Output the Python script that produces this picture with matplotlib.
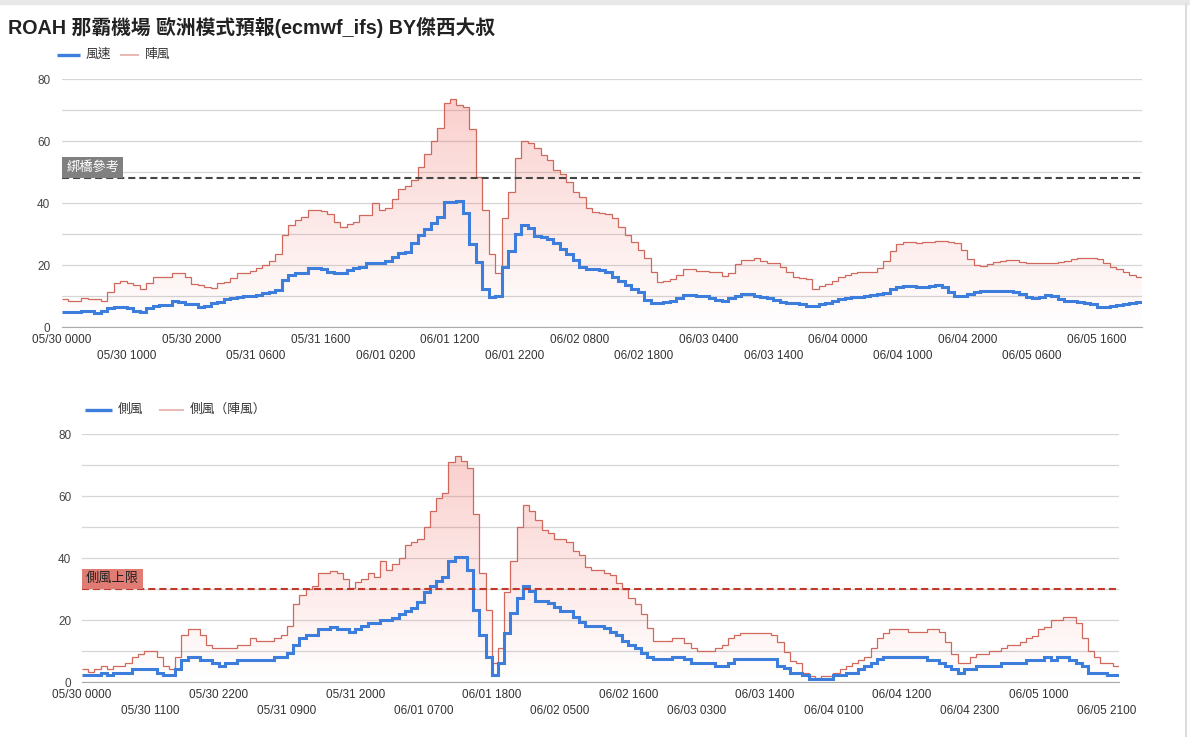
import numpy as np
import pandas as pd
import matplotlib
matplotlib.use("Agg")
import matplotlib.pyplot as plt
from matplotlib.colors import LinearSegmentedColormap
from matplotlib.lines import Line2D

plt.rcParams['font.family'] = ['Liberation Sans', 'Noto Sans CJK TC', 'DejaVu Sans']

TITLE = "ROAH 那霸機場 歐洲模式預報(ecmwf_ifs) BY傑西大叔"

# hourly forecast, 05/30 0000 onwards
times = pd.date_range("2024-05-30 00:00", periods=167, freq="h")
time_labels = times.strftime("%m/%d %H%M").tolist()

# top panel: wind / gust (kt)
wind = [4.8, 4.8, 4.8, 5.4, 5.4, 4.7, 5.4, 6.1, 6.7, 6.7, 6.1, 5.4, 4.8, 6.1, 7.0, 7.2, 7.2, 8.6, 8.1, 7.5,
        7.4, 6.7, 7.0, 7.7, 8.3, 9.0, 9.6, 9.9, 10.0, 10.2, 10.5, 11.0, 11.3, 12.0, 15.2, 16.9, 17.6, 17.6, 19.0, 19.0,
        18.7, 17.7, 17.4, 17.4, 18.5, 19.0, 19.6, 20.6, 20.8, 20.6, 21.5, 22.8, 23.9, 24.3, 27.1, 29.8, 31.6, 33.5, 35.7, 40.3,
        40.3, 40.8, 36.8, 26.8, 21.1, 12.3, 9.9, 10.1, 19.6, 24.6, 30.1, 33.0, 31.9, 29.6, 29.2, 28.6, 27.1, 25.2, 23.5, 21.7,
        19.6, 18.8, 18.7, 18.5, 17.9, 16.3, 14.9, 13.6, 12.5, 11.5, 8.8, 8.0, 7.7, 8.3, 8.5, 9.3, 10.4, 10.3, 10.1, 10.1,
        9.5, 8.8, 8.6, 9.3, 10.1, 10.7, 10.7, 10.1, 9.7, 9.3, 8.8, 8.3, 7.7, 7.7, 7.5, 7.0, 7.0, 7.4, 8.0, 8.6,
        9.1, 9.4, 9.7, 9.9, 10.1, 10.3, 10.6, 11.2, 12.3, 13.1, 13.3, 13.3, 13.1, 13.1, 13.4, 13.6, 13.1, 11.5, 10.1, 10.1,
        10.7, 11.4, 11.6, 11.7, 11.7, 11.7, 11.7, 11.5, 10.7, 9.9, 9.5, 9.9, 10.4, 10.2, 9.1, 8.6, 8.6, 8.3, 8.0, 7.4,
        6.7, 6.7, 6.9, 7.2, 7.4, 7.9, 8.3]
gust = [9.0, 8.5, 8.5, 9.4, 9.1, 9.1, 8.6, 11.4, 14.2, 14.8, 14.4, 13.6, 12.5, 14.2, 16.1, 16.1, 16.1, 17.5, 17.5, 16.3,
        13.9, 13.5, 13.1, 12.8, 14.3, 14.7, 15.8, 17.5, 17.5, 18.2, 19.0, 20.1, 21.3, 23.7, 29.8, 33.0, 34.6, 35.5, 37.8, 37.8,
        37.5, 36.5, 34.1, 32.5, 33.2, 34.1, 36.1, 36.1, 40.2, 37.8, 38.6, 41.4, 44.7, 45.6, 47.5, 51.8, 55.8, 60.1, 64.2, 72.3,
        73.5, 71.7, 71.2, 64.0, 48.6, 37.8, 23.6, 17.6, 35.2, 43.5, 54.5, 60.1, 59.3, 57.7, 55.5, 53.9, 50.8, 49.5, 47.0, 43.8,
        42.1, 38.4, 37.3, 37.0, 36.4, 35.4, 32.5, 29.8, 27.6, 24.9, 22.2, 17.9, 14.7, 15.0, 15.5, 16.9, 18.7, 18.8, 18.2, 18.2,
        17.9, 17.9, 16.5, 17.6, 20.4, 21.7, 21.7, 22.2, 21.5, 20.8, 20.6, 19.3, 17.9, 16.3, 16.0, 15.7, 12.3, 13.3, 14.0, 15.0,
        16.1, 16.9, 17.4, 17.7, 17.8, 17.8, 19.2, 21.5, 24.6, 26.8, 27.4, 27.4, 27.2, 27.6, 27.6, 27.9, 27.9, 27.6, 27.1, 24.9,
        21.9, 20.1, 19.9, 20.4, 21.2, 21.5, 21.7, 21.6, 21.2, 20.8, 20.6, 20.6, 20.6, 20.8, 21.2, 21.5, 21.9, 22.4, 22.5, 22.5,
        21.9, 20.6, 19.6, 18.7, 17.9, 16.9, 16.3]

# bottom panel: crosswind / crosswind gust (kt)
cross = [2.2, 2.2, 2.2, 3.1, 2.2, 3.1, 3.1, 3.1, 4.2, 4.2, 4.2, 4.2, 3.1, 2.2, 2.2, 4.2, 7.2, 8.3, 8.3, 7.2,
         7.2, 6.1, 5.1, 6.1, 6.1, 7.2, 7.2, 7.2, 7.2, 7.2, 7.2, 8.3, 8.3, 9.4, 12.0, 14.2, 15.3, 15.3, 17.2, 17.2,
         18.0, 17.2, 17.2, 16.1, 17.2, 18.2, 19.2, 19.2, 20.1, 20.1, 20.6, 22.0, 23.1, 23.9, 26.0, 29.2, 31.2, 32.8, 34.1, 39.2,
         40.3, 40.3, 36.2, 23.3, 15.3, 8.3, 2.2, 6.1, 15.8, 22.3, 27.1, 31.1, 29.5, 26.3, 26.3, 25.5, 24.4, 23.1, 23.1, 21.0,
         19.4, 18.3, 18.3, 18.3, 17.4, 16.3, 15.1, 13.4, 12.0, 11.0, 9.4, 8.3, 7.4, 7.4, 7.4, 8.3, 8.3, 7.4, 6.3, 6.3,
         6.3, 6.3, 5.4, 5.4, 6.3, 7.4, 7.4, 7.4, 7.4, 7.4, 7.4, 7.4, 5.3, 4.5, 3.1, 3.1, 2.2, 1.2, 1.2, 1.2,
         1.2, 2.2, 2.2, 3.1, 3.1, 4.2, 5.3, 6.3, 7.4, 8.3, 8.3, 8.3, 8.3, 8.3, 8.3, 8.3, 7.2, 7.2, 6.1, 5.1,
         4.2, 3.1, 4.2, 4.2, 5.3, 5.3, 5.3, 5.3, 6.1, 6.1, 6.1, 6.1, 7.2, 7.2, 7.2, 8.3, 7.2, 8.3, 8.3, 7.2,
         6.3, 5.3, 3.1, 3.1, 3.1, 2.2, 2.2]
cross_gust = [4.2, 3.2, 4.2, 5.1, 4.2, 5.1, 5.1, 6.1, 8.1, 9.1, 10.2, 10.2, 8.3, 5.3, 4.4, 8.1, 15.1, 17.1, 17.1, 15.1,
              12.0, 11.2, 11.2, 11.2, 11.2, 12.0, 12.0, 14.2, 13.2, 13.2, 13.2, 14.2, 15.1, 18.2, 25.2, 28.2, 30.1, 31.2, 35.2, 35.2,
              36.0, 35.2, 33.2, 30.3, 32.2, 33.2, 35.2, 34.1, 39.2, 36.2, 38.2, 40.2, 44.3, 45.1, 46.1, 50.2, 55.1, 59.4, 61.2, 71.2,
              73.1, 71.4, 69.0, 54.2, 35.2, 23.3, 6.1, 11.2, 29.2, 39.1, 50.2, 57.2, 55.1, 52.2, 49.1, 48.1, 46.2, 46.2, 45.1, 42.2,
              41.1, 37.3, 36.2, 36.2, 35.4, 34.6, 31.9, 30.0, 27.1, 25.2, 21.9, 17.4, 13.3, 13.3, 13.3, 14.2, 14.2, 12.6, 11.2, 10.2,
              10.2, 10.2, 11.2, 12.1, 14.2, 15.1, 16.0, 16.0, 16.0, 16.0, 16.0, 15.1, 13.1, 9.9, 7.0, 6.1, 3.1, 2.0, 1.3, 2.0,
              2.0, 3.1, 4.2, 5.3, 6.3, 7.2, 8.3, 11.2, 14.2, 16.0, 17.1, 17.1, 17.1, 16.1, 16.1, 16.1, 17.1, 17.1, 16.1, 13.1,
              9.1, 6.1, 6.1, 8.3, 9.1, 9.1, 10.2, 10.2, 11.2, 12.0, 12.0, 13.1, 14.2, 15.0, 17.1, 18.0, 20.1, 20.1, 21.0, 21.0,
              19.0, 14.2, 10.1, 8.3, 6.1, 6.1, 5.1]

BRIDGE_REF = 48
CROSS_LIMIT = 30

BLUE = "#3d7ddc"
RED = "#d0685c"
fill_cmap = LinearSegmentedColormap.from_list(
    "pinkfade", [(0.93, 0.36, 0.32, 0.0), (0.93, 0.36, 0.32, 0.32)])

W, H = 1190, 737
fig = plt.figure(figsize=(W / 100, H / 100), dpi=100)


def fx(px):
    return px / W


def fy(py):
    return 1 - py / H


def panel(rect, base, peak, step, ref, ref_text, ref_line, ref_box, ref_txtcolor, ypad):
    ax = fig.add_axes(rect)
    n = len(base)
    edges = np.arange(n + 1)
    poly = ax.fill_between(edges, list(peak) + [peak[-1]], 0, step="post",
                           facecolor="none", edgecolor="none")
    grad = np.linspace(0, 1, 256).reshape(-1, 1)
    im = ax.imshow(grad, extent=[0, n, 0, 80], origin="lower", aspect="auto",
                   cmap=fill_cmap, zorder=1, interpolation="bilinear")
    im.set_clip_path(poly.get_paths()[0], transform=ax.transData)
    ax.stairs(peak, edges, baseline=None, color=RED, lw=0.9, zorder=3)
    ax.stairs(base, edges, baseline=None, color=BLUE, lw=2.2, zorder=4)
    ax.axhline(ref, color=ref_line, lw=1.5, dashes=(3.4, 1.9), zorder=5)
    ax.annotate(ref_text, xy=(0, ref), xytext=(3, 3.2), textcoords="offset points",
                ha="left", va="bottom", fontsize=9.5, color=ref_txtcolor, zorder=6,
                bbox=dict(boxstyle="square,pad=0.3", fc=ref_box, ec="none"))

    ax.set_xlim(0, n)
    ax.set_ylim(0, 80)
    ax.set_yticks(range(0, 81, 20))
    ax.set_yticks(range(10, 81, 20), minor=True)
    ax.grid(axis="y", which="both", color="#d6d6d6", lw=0.9, zorder=0)
    ax.set_axisbelow(True)

    major = list(range(0, n, 2 * step))
    minor = list(range(step, n, 2 * step))
    ax.set_xticks(major)
    ax.set_xticklabels([time_labels[i] for i in major])
    ax.set_xticks(minor, minor=True)
    ax.set_xticklabels([time_labels[i] for i in minor], minor=True)
    ax.tick_params(axis="x", which="major", length=0, pad=4.5, labelsize=8.5, labelcolor="#333333")
    ax.tick_params(axis="x", which="minor", length=0, pad=16.5, labelsize=8.5, labelcolor="#333333")
    ax.tick_params(axis="y", which="both", length=0, pad=ypad, labelsize=8.5, labelcolor="#444444")
    for s in ["top", "right", "left"]:
        ax.spines[s].set_visible(False)
    ax.spines["bottom"].set_color("#aaaaaa")
    ax.spines["bottom"].set_zorder(2)
    return ax


panel([fx(62), fy(327.3), fx(1080), 248 / H], wind, gust, 10, BRIDGE_REF, "綁橋參考",
      "#444444", "#808080", "white", 8.5)
panel([fx(82), fy(682.3), fx(1037), 248 / H], cross, cross_gust, 11, CROSS_LIMIT, "側風上限",
      "#c0392b", "#e07c73", "#222222", 7.8)


def legend_item(x0, x1, y, color, lw, label, alpha=1.0):
    fig.add_artist(Line2D([fx(x0), fx(x1)], [fy(y), fy(y)], color=color, lw=lw, alpha=alpha,
                          transform=fig.transFigure, solid_capstyle="butt"))
    fig.text(fx(x1 + 6), fy(y), label, fontsize=9.2, color="#333333", va="center", ha="left")


legend_item(57, 80, 55, BLUE, 2.4, "風速")
legend_item(120, 139, 55, RED, 1.2, "陣風", 0.55)
legend_item(85, 112, 410, BLUE, 2.4, "側風")
legend_item(159, 184, 410, RED, 1.2, "側風（陣風）", 0.55)

fig.text(fx(8), fy(27), TITLE, fontsize=14.2, fontweight="bold", color="#222222",
         va="center", ha="left")

# page frame
fig.add_artist(plt.Rectangle((0, fy(4)), 1, 4 / H, color="#e8e8e8", transform=fig.transFigure))
fig.add_artist(Line2D([fx(1186), fx(1186)], [0, fy(4)], color="#dcdcdc", lw=1.5,
                      transform=fig.transFigure))

fig.savefig("out.png", dpi=100)
